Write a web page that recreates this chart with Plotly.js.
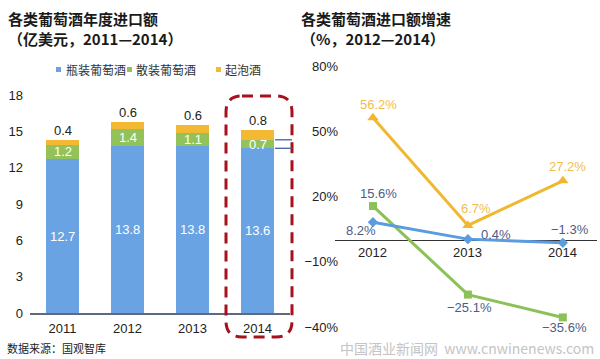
<!DOCTYPE html>
<html>
<head>
<meta charset="utf-8">
<script src="https://cdn.plot.ly/plotly-3.0.1.min.js"></script>
<style>html,body{margin:0;padding:0;background:#fff;}#chart{width:600px;height:359px;}</style>
</head>
<body>
<div id="chart"></div>
<script>
// ---- data ----
const years = ['2011', '2012', '2013', '2014'];
const bottled = [12.7, 13.8, 13.8, 13.6];   // 瓶装葡萄酒
const bulk = [1.2, 1.4, 1.1, 0.7];          // 散装葡萄酒
const sparkling = [0.4, 0.6, 0.6, 0.8];     // 起泡酒

const growthYears = ['2012', '2013', '2014'];
const bottledGrowth = [8.2, 0.4, -1.3];
const bulkGrowth = [15.6, -25.1, -35.6];
const sparklingGrowth = [56.2, 6.7, 27.2];

const seriesNames = ['瓶装葡萄酒', '散装葡萄酒', '起泡酒'];
const barTicks = [0, 3, 6, 9, 12, 15, 18];
const growthTicks = [-40, -10, 20, 50, 80];

// ---- style ----
const W = 600, H = 359;
const px = x => x / W;
const py = y => 1 - y / H;
const C_BLUE = '#6aa3e3', C_GREEN = '#93c25b', C_YELLOW = '#f3b935';
const L_BLUE = '#5b9be0', L_GREEN = '#8cc157', L_YELLOW = '#f0b72f';
const LABEL_BG = '#4d5b8a', LABEL_Y = '#f0be4c';
const FONT = 'Arial, "Liberation Sans", "Noto Sans CJK SC", sans-serif';
const CJK = '"Noto Sans CJK SC", sans-serif';

const traces = [
  {type: 'bar', x: years, y: bottled, name: seriesNames[0], marker: {color: C_BLUE}, width: 0.5, xaxis: 'x', yaxis: 'y'},
  {type: 'bar', x: years, y: bulk, name: seriesNames[1], marker: {color: C_GREEN}, width: 0.5, xaxis: 'x', yaxis: 'y'},
  {type: 'bar', x: years, y: sparkling, name: seriesNames[2], marker: {color: C_YELLOW}, width: 0.5, xaxis: 'x', yaxis: 'y'},
  {type: 'scatter', mode: 'lines+markers', x: growthYears, y: sparklingGrowth, name: seriesNames[2], xaxis: 'x2', yaxis: 'y2',
   line: {color: L_YELLOW, width: 3}, marker: {symbol: 'triangle-up', size: 10, color: L_YELLOW}, cliponaxis: false},
  {type: 'scatter', mode: 'lines+markers', x: growthYears, y: bulkGrowth, name: seriesNames[1], xaxis: 'x2', yaxis: 'y2',
   line: {color: L_GREEN, width: 3}, marker: {symbol: 'square', size: 8, color: L_GREEN}, cliponaxis: false},
  {type: 'scatter', mode: 'lines+markers', x: growthYears, y: bottledGrowth, name: seriesNames[0], xaxis: 'x2', yaxis: 'y2',
   line: {color: L_BLUE, width: 3}, marker: {symbol: 'diamond', size: 8, color: L_BLUE}, cliponaxis: false}
];

// annotations on category axes use the category index
const annotations = [];
years.forEach((yr, i) => {
  annotations.push({xref: 'x', yref: 'y', x: i, y: bottled[i] / 2, text: String(bottled[i]), showarrow: false,
    font: {family: FONT, size: 13, color: '#ffffff'}});
  annotations.push({xref: 'x', yref: 'y', x: i, y: bottled[i] + bulk[i] / 2, text: String(bulk[i]), showarrow: false,
    font: {family: FONT, size: 13, color: '#ffffff'}});
  annotations.push({xref: 'x', yref: 'y', x: i, y: bottled[i] + bulk[i] + sparkling[i], text: String(sparkling[i]),
    showarrow: false, yanchor: 'bottom', font: {family: FONT, size: 13, color: '#222222'}});
});
const fmt = v => (v < 0 ? '\u2212' + Math.abs(v).toFixed(1) : v.toFixed(1)) + '%';
const yellowOff = [[6, 13], [8, 17], [5, 14]];
const bulkOff = [[6, 13], [2, -13], [2, -10]];
const blueOff = [[-12, -8], [28, 5], [7, 13]];
growthYears.forEach((yr, i) => {
  annotations.push({xref: 'x2', yref: 'y2', x: i, y: sparklingGrowth[i], text: fmt(sparklingGrowth[i]), showarrow: false,
    xshift: yellowOff[i][0], yshift: yellowOff[i][1], font: {family: FONT, size: 13, color: LABEL_Y}});
  annotations.push({xref: 'x2', yref: 'y2', x: i, y: bulkGrowth[i], text: fmt(bulkGrowth[i]), showarrow: false,
    xshift: bulkOff[i][0], yshift: bulkOff[i][1], font: {family: FONT, size: 13, color: LABEL_BG}});
  annotations.push({xref: 'x2', yref: 'y2', x: i, y: bottledGrowth[i], text: fmt(bottledGrowth[i]), showarrow: false,
    xshift: blueOff[i][0], yshift: blueOff[i][1], font: {family: FONT, size: 13, color: LABEL_BG}});
  // category label just below the zero line
  annotations.push({xref: 'x2', yref: 'y2', x: i, y: 0, yanchor: 'top', yshift: -3, text: yr, showarrow: false,
    font: {family: FONT, size: 13, color: '#222222'}});
});
// titles (two lines each)
const titleFont = {family: CJK, size: 15, color: '#1a1a1a'};
[['<b>各类葡萄酒年度进口额</b><br><b>（亿美元，2011—2014）</b>', 6, 6],
 ['<b>各类葡萄酒进口额增速</b><br><b>（%，2012—2014）</b>', 299, 6]].forEach(t => {
  annotations.push({xref: 'paper', yref: 'paper', x: px(t[1]), y: py(t[2]), xanchor: 'left', yanchor: 'top',
    align: 'left', text: t[0], showarrow: false, font: titleFont});
});
// legend
const shapes = [];
const legendPos = [[64, C_BLUE, 56], [134, C_GREEN, 127], [223, C_YELLOW, 216]];
legendPos.forEach((l, i) => {
  annotations.push({xref: 'paper', yref: 'paper', x: px(l[0]), y: py(70), xanchor: 'left', yanchor: 'middle',
    text: seriesNames[i], showarrow: false, font: {family: CJK, size: 12, color: '#333333'}});
  shapes.push({type: 'rect', xref: 'paper', yref: 'paper', x0: px(l[2]), x1: px(l[2] + 5), y0: py(72), y1: py(67),
    fillcolor: l[1], line: {width: 0}});
});
// source + watermark
annotations.push({xref: 'paper', yref: 'paper', x: px(5), y: py(348), xanchor: 'left', yanchor: 'middle',
  text: '数据来源：国观智库', showarrow: false, font: {family: CJK, size: 11, color: '#222222'}});
annotations.push({xref: 'paper', yref: 'paper', x: px(338), y: py(348), xanchor: 'left', yanchor: 'middle',
  text: '中国酒业新闻网  www.cnwinenews.com', showarrow: false, font: {family: CJK, size: 14, color: '#c4c4c4'}});

// rounded dashed box around 2014
function roundRect(x0, y0, x1, y1, r) {
  const X = px, Y = py;
  return `M${X(x0 + r)},${Y(y0)} L${X(x1 - r)},${Y(y0)} Q${X(x1)},${Y(y0)} ${X(x1)},${Y(y0 + r)} ` +
    `L${X(x1)},${Y(y1 - r)} Q${X(x1)},${Y(y1)} ${X(x1 - r)},${Y(y1)} L${X(x0 + r)},${Y(y1)} ` +
    `Q${X(x0)},${Y(y1)} ${X(x0)},${Y(y1 - r)} L${X(x0)},${Y(y0 + r)} Q${X(x0)},${Y(y0)} ${X(x0 + r)},${Y(y0)} Z`;
}
shapes.push({type: 'path', xref: 'paper', yref: 'paper', path: roundRect(226, 96, 292, 337, 16),
  line: {color: '#a5121d', width: 3, dash: '11px,7px'}, layer: 'above'});
// bracket lines marking the bulk segment of 2014
const last = years.length - 1;
[bottled[last], bottled[last] + bulk[last]].forEach(v => {
  shapes.push({type: 'line', xref: 'paper', yref: 'y', x0: px(275), x1: px(292), y0: v, y1: v,
    line: {color: '#3e62a0', width: 1.3}});
});

const layout = {
  width: W, height: H,
  margin: {l: 0, r: 0, t: 0, b: 0},
  paper_bgcolor: '#ffffff', plot_bgcolor: 'rgba(0,0,0,0)',
  showlegend: false,
  barmode: 'stack',
  font: {family: FONT, size: 13, color: '#222222'},
  xaxis: {domain: [px(30), px(290)], anchor: 'y', type: 'category', range: [-0.5, 3.5], showline: true,
    linecolor: '#5d6a80', linewidth: 1.5, ticks: '', showgrid: false, zeroline: false, ticklabelstandoff: 3,
    tickfont: {family: FONT, size: 13, color: '#222222'}},
  yaxis: {domain: [py(313), py(95)], range: [0, 18], tickmode: 'array', tickvals: barTicks, ticktext: barTicks.map(String),
    anchor: 'x', ticklabelstandoff: 6, showgrid: false, zeroline: false, showline: false, ticks: '',
    tickfont: {family: FONT, size: 13, color: '#222222'}},
  xaxis2: {domain: [px(335), px(597)], anchor: 'y2', type: 'category', range: [-0.4, 2.36],
    showline: false, ticks: '', showgrid: false, zeroline: false, showticklabels: false},
  yaxis2: {domain: [py(327), py(66)], range: [-40, 80], tickmode: 'array', tickvals: growthTicks,
    ticktext: growthTicks.map(v => (v < 0 ? '\u2212' + Math.abs(v) : v) + '%'), anchor: 'x2',
    ticklabelstandoff: -4, showgrid: false, zeroline: true, zerolinecolor: '#333333', zerolinewidth: 1, showline: false,
    ticks: '', tickfont: {family: FONT, size: 13, color: '#222222'}},
  annotations: annotations,
  shapes: shapes
};

Plotly.newPlot('chart', traces, layout, {staticPlot: true, displayModeBar: false});
</script>
</body>
</html>
